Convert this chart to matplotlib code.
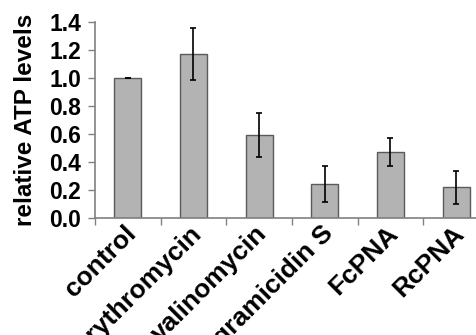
import matplotlib.pyplot as plt
import numpy as np

plt.rcParams['font.family'] = ['Liberation Sans', 'DejaVu Sans']

categories = ["control", "erythromycin", "valinomycin", "gramicidin S", "FcPNA", "RcPNA"]
atp = [1.0, 1.17, 0.595, 0.243, 0.474, 0.219]
errors = [0.003, 0.185, 0.157, 0.13, 0.10, 0.118]

fig = plt.figure(figsize=(4.77, 3.35), dpi=100)
ax = fig.add_axes([95 / 477, 117 / 335, 394 / 477, 196 / 335])

x = np.arange(len(categories))
ax.bar(x, atp, width=0.41, color='#b3b3b3', edgecolor='#5a5a5a', linewidth=1.0, zorder=2)
ax.errorbar(x, atp, yerr=errors, fmt='none', ecolor='black', elinewidth=1.2,
            capsize=2.5, capthick=1.2, zorder=3)

ax.set_xlim(-0.5, len(categories) - 0.5)
ax.set_ylim(0, 1.4)
ax.set_yticks(np.arange(0, 1.41, 0.2))
ax.set_yticklabels([f"{v:.1f}" for v in np.arange(0, 1.41, 0.2)], fontsize=16.5, fontweight='bold')

# slanted category labels, placed Excel-style
ax.set_xticks(x)
ax.set_xticklabels([])
for i, name in enumerate(categories):
    ax.annotate(name, xy=(i, 0), xycoords=('data', 'axes fraction'),
                xytext=(-3, -2.5), textcoords='offset points',
                rotation=45, ha='right', va='top', rotation_mode='anchor',
                fontsize=19, fontweight='bold', annotation_clip=False)

ax.set_xticks(np.arange(-0.5, len(categories), 1), minor=True)
ax.tick_params(axis='x', which='major', length=0)
ax.tick_params(axis='x', which='minor', length=5, color='#808080', width=1)
ax.tick_params(axis='y', length=5, color='#808080', width=1, pad=5)

for s in ['top', 'right']:
    ax.spines[s].set_visible(False)
for s in ['left', 'bottom']:
    ax.spines[s].set_color('#808080')
    ax.spines[s].set_linewidth(1.2)

ax.set_ylabel("relative ATP levels", fontsize=17.5, fontweight='bold')
ax.yaxis.set_label_coords(-58 / 394, 0.5)

fig.savefig("out.png", dpi=100)
